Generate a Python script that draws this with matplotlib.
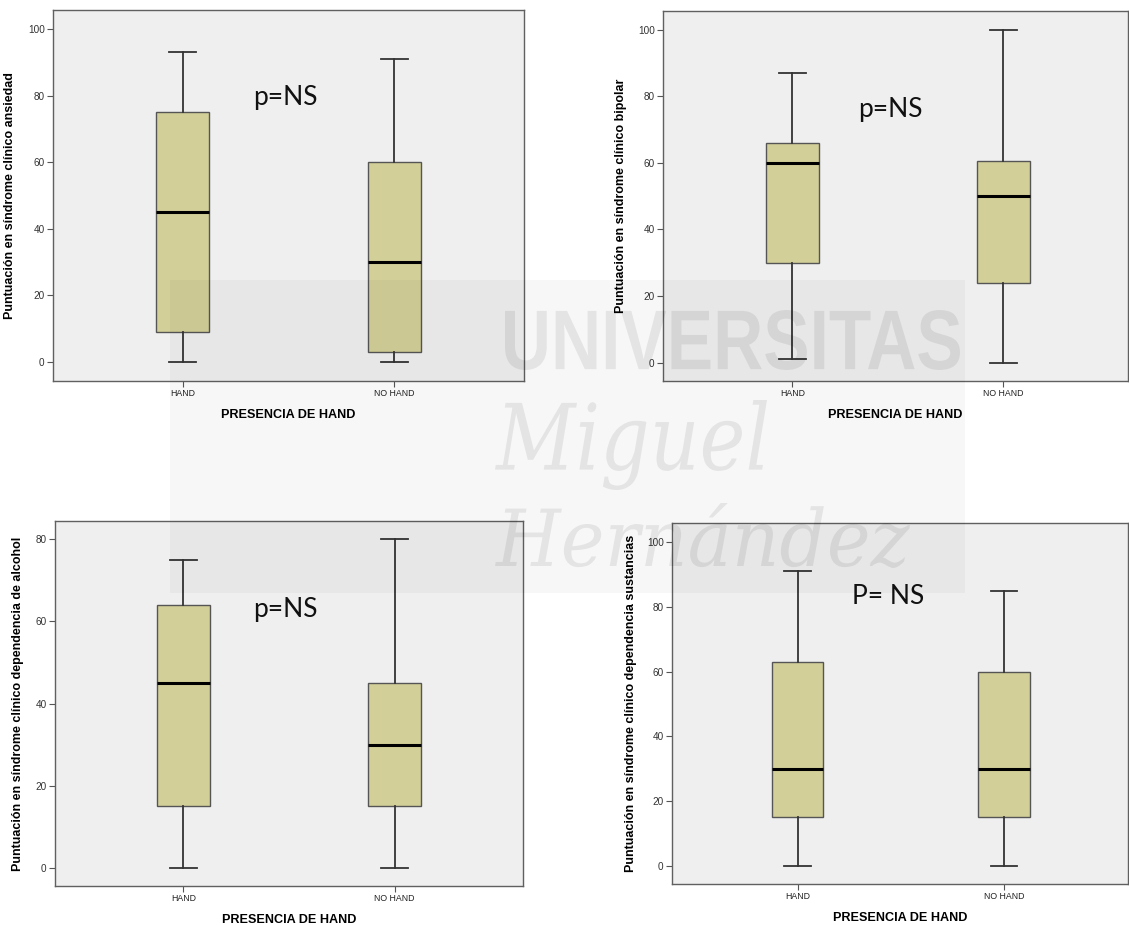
import matplotlib
matplotlib.use("Agg")
import matplotlib.pyplot as plt
from matplotlib.patches import Rectangle, PathPatch
from matplotlib.textpath import TextPath
from matplotlib.font_manager import FontProperties
from matplotlib.transforms import Affine2D

categories = ["HAND", "NO HAND"]
x_label = "PRESENCIA DE HAND"

y_labels = [
    "Puntuación en síndrome clínico ansiedad",
    "Puntuación en síndrome clínico bipolar",
    "Puntuación en síndrome clínico dependencia de alcohol",
    "Puntuación en síndrome clínico dependencia sustancias",
]
p_texts = ["p=NS", "p=NS", "p=NS", "P= NS"]

# per panel: [HAND, NO HAND]
whis_lo = [[0, 0], [1, 0], [0, 0], [0, 0]]
q1 = [[9, 3], [30, 24], [15, 15], [15, 15]]
median = [[45, 30], [60, 50], [45, 30], [30, 30]]
q3 = [[75, 60], [66, 60.5], [64, 45], [63, 60]]
whis_hi = [[93, 91], [87, 100], [75, 80], [91, 85]]

y_ticks = [range(0, 101, 20), range(0, 101, 20), range(0, 81, 20), range(0, 101, 20)]

W, H = 1129, 925
fig = plt.figure(figsize=(W / 100, H / 100), dpi=100)

# axes boxes in pixels: left, top, right, bottom
boxes_px = [(53, 10, 524, 381), (663, 11, 1128, 381), (55, 521, 523, 886), (672, 523, 1128, 884)]
xlims = [(0.386, 2.613), (0.387, 2.59), (0.392, 2.608), (0.392, 2.60)]
ylims = [(-5.7, 105.7), (-5.5, 105.6), (-4.4, 84.4), (-5.6, 105.9)]
ylabel_x = [16, 627, 24, 637]
p_pos = [(285, 98), (890, 110), (285, 609), (888, 597)]

fill = "#d3cf98"
edge = "#333333"

for i in range(4):
    l, t, r, b = boxes_px[i]
    ax = fig.add_axes([l / W, 1 - b / H, (r - l) / W, (b - t) / H])
    ax.set_facecolor("#efefef")

    stats = []
    for j, cat in enumerate(categories):
        stats.append(dict(label=cat, whislo=whis_lo[i][j], q1=q1[i][j], med=median[i][j],
                          q3=q3[i][j], whishi=whis_hi[i][j], fliers=[]))
    ax.bxp(stats, positions=[1, 2], widths=0.25, capwidths=0.128, patch_artist=True,
           showfliers=False,
           boxprops=dict(facecolor=fill, edgecolor="#555555", linewidth=1.0),
           medianprops=dict(color="black", linewidth=2.2),
           whiskerprops=dict(color=edge, linewidth=1.3),
           capprops=dict(color=edge, linewidth=1.3))

    ax.set_xlim(*xlims[i])
    ax.set_ylim(*ylims[i])
    ax.set_yticks(list(y_ticks[i]))
    ax.set_xticks([1, 2])
    ax.set_xticklabels(categories, fontsize=6.3, family="Liberation Sans", color="#222222")
    for lab in ax.get_yticklabels():
        lab.set_fontsize(7.2)
        lab.set_family("Liberation Sans")
        lab.set_color("#333333")
    ax.tick_params(axis="both", direction="out", length=4, width=0.8, color="#555555", pad=2)
    for sp in ax.spines.values():
        sp.set_color("#606060")
        sp.set_linewidth(1.0)

    ax.set_xlabel(x_label, fontsize=9.1, fontweight="bold", family="Liberation Sans", labelpad=8)
    ax.set_ylabel(y_labels[i], fontsize=9.0, fontweight="bold", family="Liberation Sans")
    ax.yaxis.set_label_coords((ylabel_x[i] - l) / (r - l), 0.5)

    px, py = p_pos[i]
    fig.text(px / W, 1 - py / H, p_texts[i], fontsize=19, family="Lato",
             ha="center", va="center", color="#111111")


def stamp(s, x0, y0, x1, y1, prop):
    # fit a text outline into a pixel box (top-left origin)
    tp = TextPath((0, 0), s, size=100, prop=prop)
    bb = tp.get_extents()
    sx = (x1 - x0) / bb.width / W
    sy = (y1 - y0) / bb.height / H
    tr = Affine2D().translate(-bb.x0, -bb.y0).scale(sx, sy).translate(x0 / W, 1 - y1 / H)
    fig.add_artist(PathPatch(tr.transform_path(tp), transform=fig.transFigure,
                             facecolor="black", edgecolor="none", alpha=0.075, zorder=11))


# faint university watermark over the middle of the page
fig.add_artist(Rectangle((170 / W, 1 - 593 / H), 795 / W, 313 / H,
                         transform=fig.transFigure, facecolor="black",
                         alpha=0.03, edgecolor="none", zorder=10))
stamp("UNIVERSITAS", 505, 310, 960, 370, FontProperties(family="Liberation Sans", weight="bold"))
stamp("Miguel", 495, 400, 767, 490, FontProperties(family="DejaVu Serif", style="italic"))
stamp("Hernández", 495, 503, 910, 568, FontProperties(family="DejaVu Serif", style="italic"))

fig.savefig("out.png", dpi=100)
